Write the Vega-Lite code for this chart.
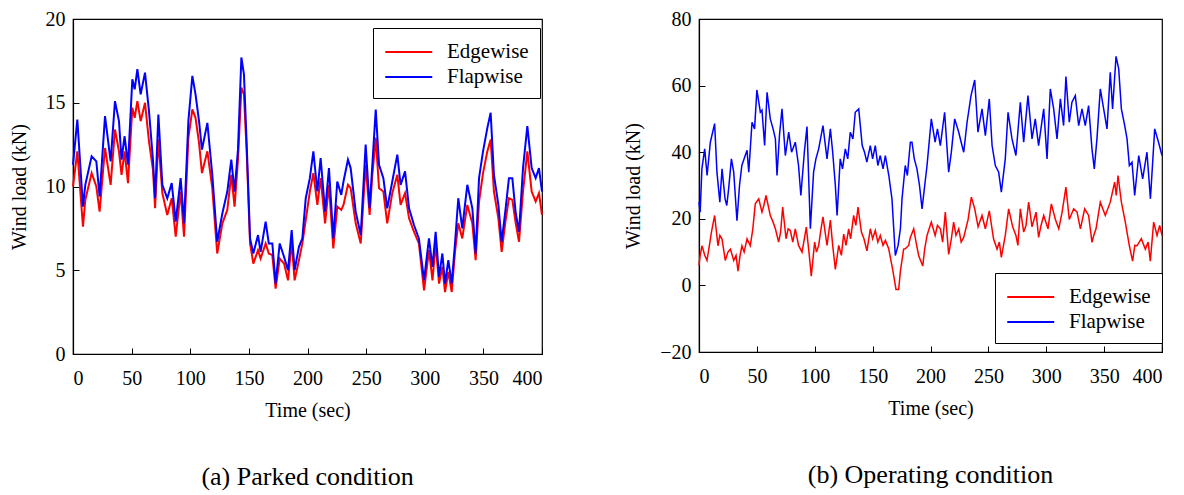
{
  "$schema": "https://vega.github.io/schema/vega-lite/v6.json",
  "padding": {"left": 8, "top": 8, "right": 10, "bottom": 2},
  "background": "white",
  "config": {
    "font": "Liberation Serif, Times New Roman, serif",
    "view": {"stroke": "black", "strokeWidth": 1.2},
    "axis": {
      "grid": false, "domainColor": "black", "domainWidth": 1.2, "tickColor": "black",
      "labelColor": "black", "titleColor": "black", "labelFontSize": 20, "titleFontSize": 20,
      "titleFontWeight": "normal", "tickSize": -6, "labelPadding": 14
    },
    "axisX": {"labelPadding": 20, "titlePadding": 12},
    "axisY": {"titlePadding": 16},
    "legend": {
      "labelFontSize": 21, "labelColor": "black",
      "strokeColor": "black", "fillColor": "white", "padding": 11, "symbolType": "M-1,0H3",
      "symbolSize": 552, "symbolStrokeWidth": 2, "labelOffset": 37, "rowPadding": 2, "title": null
    },
    "title": {"fontSize": 26, "fontWeight": "normal", "color": "black"}
  },
  "spacing": 76,
  "datasets": {
    "parked": [
      {"t":0,"s":"Edgewise","v":10.0},{"t":3.7,"s":"Edgewise","v":12.1},{"t":8.5,"s":"Edgewise","v":7.6},{"t":10.5,"s":"Edgewise","v":9.2},{"t":15.9,"s":"Edgewise","v":10.8},{"t":19.9,"s":"Edgewise","v":10.0},{"t":22.7,"s":"Edgewise","v":8.5},{"t":27.3,"s":"Edgewise","v":12.3},{"t":32.1,"s":"Edgewise","v":10.1},{"t":35.8,"s":"Edgewise","v":13.4},{"t":39.2,"s":"Edgewise","v":12.1},{"t":41.4,"s":"Edgewise","v":10.7},{"t":44,"s":"Edgewise","v":12.1},{"t":46.9,"s":"Edgewise","v":10.2},{"t":50.6,"s":"Edgewise","v":14.7},{"t":52.6,"s":"Edgewise","v":14.1},{"t":54.9,"s":"Edgewise","v":15.1},{"t":57.7,"s":"Edgewise","v":13.9},{"t":61.4,"s":"Edgewise","v":15.0},{"t":64.8,"s":"Edgewise","v":12.7},{"t":68.2,"s":"Edgewise","v":11.0},{"t":70,"s":"Edgewise","v":8.7},{"t":72.8,"s":"Edgewise","v":12.8},{"t":76.2,"s":"Edgewise","v":9.6},{"t":80.4,"s":"Edgewise","v":8.3},{"t":84.2,"s":"Edgewise","v":9.3},{"t":87.6,"s":"Edgewise","v":7.0},{"t":91.8,"s":"Edgewise","v":9.7},{"t":94.7,"s":"Edgewise","v":7.0},{"t":98.4,"s":"Edgewise","v":12.9},{"t":101.8,"s":"Edgewise","v":14.6},{"t":104.5,"s":"Edgewise","v":14.1},{"t":107.5,"s":"Edgewise","v":12.6},{"t":110,"s":"Edgewise","v":10.8},{"t":114.6,"s":"Edgewise","v":12.1},{"t":118.8,"s":"Edgewise","v":9.9},{"t":123,"s":"Edgewise","v":6.0},{"t":127.4,"s":"Edgewise","v":7.8},{"t":131.6,"s":"Edgewise","v":8.6},{"t":135,"s":"Edgewise","v":10.7},{"t":137.8,"s":"Edgewise","v":8.8},{"t":140.7,"s":"Edgewise","v":11.6},{"t":143.6,"s":"Edgewise","v":15.9},{"t":145.8,"s":"Edgewise","v":15.5},{"t":148.1,"s":"Edgewise","v":12.1},{"t":151,"s":"Edgewise","v":6.6},{"t":153.8,"s":"Edgewise","v":5.4},{"t":157.8,"s":"Edgewise","v":6.2},{"t":160,"s":"Edgewise","v":5.7},{"t":164.3,"s":"Edgewise","v":6.6},{"t":167,"s":"Edgewise","v":6.0},{"t":170,"s":"Edgewise","v":5.9},{"t":172.8,"s":"Edgewise","v":3.9},{"t":176.3,"s":"Edgewise","v":5.7},{"t":180,"s":"Edgewise","v":5.4},{"t":183.4,"s":"Edgewise","v":4.4},{"t":186.5,"s":"Edgewise","v":6.7},{"t":189,"s":"Edgewise","v":4.4},{"t":192.7,"s":"Edgewise","v":5.6},{"t":195.6,"s":"Edgewise","v":6.6},{"t":198.5,"s":"Edgewise","v":8.0},{"t":202,"s":"Edgewise","v":9.7},{"t":205,"s":"Edgewise","v":10.8},{"t":208.4,"s":"Edgewise","v":8.9},{"t":211.2,"s":"Edgewise","v":10.5},{"t":215,"s":"Edgewise","v":7.8},{"t":218.3,"s":"Edgewise","v":10.1},{"t":222,"s":"Edgewise","v":6.3},{"t":225.4,"s":"Edgewise","v":8.8},{"t":228.8,"s":"Edgewise","v":8.6},{"t":230.7,"s":"Edgewise","v":8.9},{"t":234.5,"s":"Edgewise","v":10.1},{"t":236.8,"s":"Edgewise","v":9.9},{"t":241.1,"s":"Edgewise","v":7.8},{"t":245.4,"s":"Edgewise","v":6.6},{"t":249.6,"s":"Edgewise","v":11.3},{"t":253,"s":"Edgewise","v":8.3},{"t":255.3,"s":"Edgewise","v":10.7},{"t":258.2,"s":"Edgewise","v":12.9},{"t":261,"s":"Edgewise","v":9.9},{"t":264.7,"s":"Edgewise","v":9.7},{"t":268,"s":"Edgewise","v":7.8},{"t":272.3,"s":"Edgewise","v":9.6},{"t":276.6,"s":"Edgewise","v":10.7},{"t":279.4,"s":"Edgewise","v":8.9},{"t":283.2,"s":"Edgewise","v":9.6},{"t":286.6,"s":"Edgewise","v":8.1},{"t":290.8,"s":"Edgewise","v":7.3},{"t":295,"s":"Edgewise","v":6.6},{"t":299.4,"s":"Edgewise","v":3.8},{"t":303.6,"s":"Edgewise","v":6.2},{"t":306.6,"s":"Edgewise","v":4.4},{"t":309.3,"s":"Edgewise","v":6.6},{"t":312.2,"s":"Edgewise","v":4.2},{"t":315,"s":"Edgewise","v":5.2},{"t":317.3,"s":"Edgewise","v":3.7},{"t":320.1,"s":"Edgewise","v":4.9},{"t":323,"s":"Edgewise","v":3.7},{"t":325.8,"s":"Edgewise","v":6.1},{"t":328.6,"s":"Edgewise","v":7.8},{"t":332,"s":"Edgewise","v":6.9},{"t":336.3,"s":"Edgewise","v":8.9},{"t":340.6,"s":"Edgewise","v":7.8},{"t":343.4,"s":"Edgewise","v":5.6},{"t":346.3,"s":"Edgewise","v":9.1},{"t":349.7,"s":"Edgewise","v":10.8},{"t":353.4,"s":"Edgewise","v":12.1},{"t":356.2,"s":"Edgewise","v":12.8},{"t":359,"s":"Edgewise","v":9.7},{"t":362.8,"s":"Edgewise","v":8.1},{"t":365.6,"s":"Edgewise","v":6.1},{"t":369,"s":"Edgewise","v":8.0},{"t":371.8,"s":"Edgewise","v":9.3},{"t":374.7,"s":"Edgewise","v":9.2},{"t":377.6,"s":"Edgewise","v":7.8},{"t":380.4,"s":"Edgewise","v":6.7},{"t":383.8,"s":"Edgewise","v":9.7},{"t":387.5,"s":"Edgewise","v":12.1},{"t":391.2,"s":"Edgewise","v":9.7},{"t":394.6,"s":"Edgewise","v":9.1},{"t":397.4,"s":"Edgewise","v":9.6},{"t":400,"s":"Edgewise","v":8.3},
      {"t":0,"s":"Flapwise","v":11.3},{"t":3.7,"s":"Flapwise","v":14.0},{"t":8.5,"s":"Flapwise","v":8.8},{"t":10.5,"s":"Flapwise","v":10.1},{"t":15.9,"s":"Flapwise","v":11.8},{"t":19.9,"s":"Flapwise","v":11.5},{"t":22.7,"s":"Flapwise","v":9.4},{"t":27.3,"s":"Flapwise","v":14.2},{"t":32.1,"s":"Flapwise","v":11.5},{"t":35.8,"s":"Flapwise","v":15.1},{"t":39.2,"s":"Flapwise","v":13.9},{"t":41.4,"s":"Flapwise","v":11.6},{"t":44,"s":"Flapwise","v":13.0},{"t":46.9,"s":"Flapwise","v":11.3},{"t":50.6,"s":"Flapwise","v":16.4},{"t":52.6,"s":"Flapwise","v":15.8},{"t":54.9,"s":"Flapwise","v":17.0},{"t":57.7,"s":"Flapwise","v":15.5},{"t":61.4,"s":"Flapwise","v":16.8},{"t":64.8,"s":"Flapwise","v":14.5},{"t":68.2,"s":"Flapwise","v":11.6},{"t":70,"s":"Flapwise","v":9.3},{"t":72.8,"s":"Flapwise","v":14.3},{"t":76.2,"s":"Flapwise","v":10.1},{"t":80.4,"s":"Flapwise","v":9.3},{"t":84.2,"s":"Flapwise","v":10.2},{"t":87.6,"s":"Flapwise","v":7.9},{"t":91.8,"s":"Flapwise","v":10.5},{"t":94.7,"s":"Flapwise","v":7.8},{"t":98.4,"s":"Flapwise","v":13.9},{"t":101.8,"s":"Flapwise","v":16.6},{"t":104.5,"s":"Flapwise","v":15.5},{"t":107.5,"s":"Flapwise","v":13.9},{"t":110,"s":"Flapwise","v":12.2},{"t":114.6,"s":"Flapwise","v":13.8},{"t":118.8,"s":"Flapwise","v":10.7},{"t":123,"s":"Flapwise","v":6.7},{"t":127.4,"s":"Flapwise","v":8.4},{"t":131.6,"s":"Flapwise","v":9.7},{"t":135,"s":"Flapwise","v":11.6},{"t":137.8,"s":"Flapwise","v":9.7},{"t":140.7,"s":"Flapwise","v":12.2},{"t":143.6,"s":"Flapwise","v":17.7},{"t":145.8,"s":"Flapwise","v":16.7},{"t":148.1,"s":"Flapwise","v":12.6},{"t":151,"s":"Flapwise","v":6.9},{"t":153.8,"s":"Flapwise","v":6.0},{"t":157.8,"s":"Flapwise","v":7.1},{"t":160,"s":"Flapwise","v":6.1},{"t":164.3,"s":"Flapwise","v":7.9},{"t":167,"s":"Flapwise","v":6.6},{"t":170,"s":"Flapwise","v":6.6},{"t":172.8,"s":"Flapwise","v":4.2},{"t":176.3,"s":"Flapwise","v":6.6},{"t":180,"s":"Flapwise","v":5.8},{"t":183.4,"s":"Flapwise","v":5.0},{"t":186.5,"s":"Flapwise","v":7.4},{"t":189,"s":"Flapwise","v":5.0},{"t":192.7,"s":"Flapwise","v":6.4},{"t":195.6,"s":"Flapwise","v":6.9},{"t":198.5,"s":"Flapwise","v":9.3},{"t":202,"s":"Flapwise","v":10.5},{"t":205,"s":"Flapwise","v":12.1},{"t":208.4,"s":"Flapwise","v":9.7},{"t":211.2,"s":"Flapwise","v":11.7},{"t":215,"s":"Flapwise","v":8.5},{"t":218.3,"s":"Flapwise","v":11.1},{"t":222,"s":"Flapwise","v":6.9},{"t":225.4,"s":"Flapwise","v":10.3},{"t":228.8,"s":"Flapwise","v":9.5},{"t":230.7,"s":"Flapwise","v":10.3},{"t":234.5,"s":"Flapwise","v":11.6},{"t":236.8,"s":"Flapwise","v":11.1},{"t":241.1,"s":"Flapwise","v":8.5},{"t":245.4,"s":"Flapwise","v":7.1},{"t":249.6,"s":"Flapwise","v":12.5},{"t":253,"s":"Flapwise","v":8.7},{"t":255.3,"s":"Flapwise","v":11.3},{"t":258.2,"s":"Flapwise","v":14.6},{"t":261,"s":"Flapwise","v":11.3},{"t":264.7,"s":"Flapwise","v":10.5},{"t":268,"s":"Flapwise","v":8.7},{"t":272.3,"s":"Flapwise","v":10.3},{"t":276.6,"s":"Flapwise","v":11.9},{"t":279.4,"s":"Flapwise","v":10.1},{"t":283.2,"s":"Flapwise","v":10.9},{"t":286.6,"s":"Flapwise","v":8.7},{"t":290.8,"s":"Flapwise","v":7.7},{"t":295,"s":"Flapwise","v":6.9},{"t":299.4,"s":"Flapwise","v":4.4},{"t":303.6,"s":"Flapwise","v":6.9},{"t":306.6,"s":"Flapwise","v":5.2},{"t":309.3,"s":"Flapwise","v":7.3},{"t":312.2,"s":"Flapwise","v":4.6},{"t":315,"s":"Flapwise","v":6.0},{"t":317.3,"s":"Flapwise","v":4.2},{"t":320.1,"s":"Flapwise","v":5.6},{"t":323,"s":"Flapwise","v":4.2},{"t":325.8,"s":"Flapwise","v":6.6},{"t":328.6,"s":"Flapwise","v":9.3},{"t":332,"s":"Flapwise","v":7.5},{"t":336.3,"s":"Flapwise","v":10.1},{"t":340.6,"s":"Flapwise","v":8.7},{"t":343.4,"s":"Flapwise","v":6.0},{"t":346.3,"s":"Flapwise","v":10.5},{"t":349.7,"s":"Flapwise","v":12.1},{"t":353.4,"s":"Flapwise","v":13.5},{"t":356.2,"s":"Flapwise","v":14.4},{"t":359,"s":"Flapwise","v":10.7},{"t":362.8,"s":"Flapwise","v":8.9},{"t":365.6,"s":"Flapwise","v":6.7},{"t":369,"s":"Flapwise","v":8.7},{"t":371.8,"s":"Flapwise","v":10.5},{"t":374.7,"s":"Flapwise","v":10.5},{"t":377.6,"s":"Flapwise","v":8.4},{"t":380.4,"s":"Flapwise","v":7.3},{"t":383.8,"s":"Flapwise","v":11.1},{"t":387.5,"s":"Flapwise","v":13.6},{"t":391.2,"s":"Flapwise","v":11.1},{"t":394.6,"s":"Flapwise","v":10.5},{"t":397.4,"s":"Flapwise","v":11.1},{"t":400,"s":"Flapwise","v":9.7}
    ],
    "operating": [
      {"t":0,"s":"Edgewise","v":6},{"t":1,"s":"Edgewise","v":9},{"t":2.6,"s":"Edgewise","v":11.9},{"t":5,"s":"Edgewise","v":9},{"t":6.9,"s":"Edgewise","v":7.5},{"t":9,"s":"Edgewise","v":12},{"t":10.7,"s":"Edgewise","v":15.9},{"t":13.5,"s":"Edgewise","v":21},{"t":16.4,"s":"Edgewise","v":11.9},{"t":18,"s":"Edgewise","v":15},{"t":19.9,"s":"Edgewise","v":13.9},{"t":22.7,"s":"Edgewise","v":7.5},{"t":25,"s":"Edgewise","v":10},{"t":27.1,"s":"Edgewise","v":10.9},{"t":30,"s":"Edgewise","v":7.5},{"t":32,"s":"Edgewise","v":9},{"t":33.7,"s":"Edgewise","v":4.3},{"t":35.5,"s":"Edgewise","v":9},{"t":37.1,"s":"Edgewise","v":11.9},{"t":39,"s":"Edgewise","v":10},{"t":41.5,"s":"Edgewise","v":14},{"t":44.3,"s":"Edgewise","v":11.9},{"t":46.5,"s":"Edgewise","v":17},{"t":48.6,"s":"Edgewise","v":24.5},{"t":51.6,"s":"Edgewise","v":26},{"t":54.4,"s":"Edgewise","v":22},{"t":56,"s":"Edgewise","v":24},{"t":57.9,"s":"Edgewise","v":27},{"t":61.6,"s":"Edgewise","v":21},{"t":64,"s":"Edgewise","v":19},{"t":66,"s":"Edgewise","v":17},{"t":68.8,"s":"Edgewise","v":13},{"t":70.5,"s":"Edgewise","v":16},{"t":72.3,"s":"Edgewise","v":23.5},{"t":75.2,"s":"Edgewise","v":14},{"t":77,"s":"Edgewise","v":17},{"t":78.9,"s":"Edgewise","v":16.5},{"t":81,"s":"Edgewise","v":13},{"t":83.2,"s":"Edgewise","v":17},{"t":86,"s":"Edgewise","v":12},{"t":89,"s":"Edgewise","v":10},{"t":91,"s":"Edgewise","v":14},{"t":92.7,"s":"Edgewise","v":17.5},{"t":95,"s":"Edgewise","v":10},{"t":97,"s":"Edgewise","v":2.8},{"t":99.9,"s":"Edgewise","v":13},{"t":101.5,"s":"Edgewise","v":10},{"t":103.4,"s":"Edgewise","v":12},{"t":105,"s":"Edgewise","v":16},{"t":107.1,"s":"Edgewise","v":20.6},{"t":110.6,"s":"Edgewise","v":12},{"t":113.5,"s":"Edgewise","v":19.6},{"t":115.5,"s":"Edgewise","v":12},{"t":117.8,"s":"Edgewise","v":4.8},{"t":120.7,"s":"Edgewise","v":12},{"t":123,"s":"Edgewise","v":9},{"t":125,"s":"Edgewise","v":15.4},{"t":127,"s":"Edgewise","v":12},{"t":129.3,"s":"Edgewise","v":17},{"t":131,"s":"Edgewise","v":14},{"t":133.6,"s":"Edgewise","v":21},{"t":135.5,"s":"Edgewise","v":18},{"t":137.4,"s":"Edgewise","v":23.5},{"t":140.3,"s":"Edgewise","v":16},{"t":142.5,"s":"Edgewise","v":14},{"t":145.1,"s":"Edgewise","v":10.4},{"t":148,"s":"Edgewise","v":17},{"t":150,"s":"Edgewise","v":14},{"t":152.3,"s":"Edgewise","v":16.5},{"t":154.5,"s":"Edgewise","v":13},{"t":156.6,"s":"Edgewise","v":15},{"t":159,"s":"Edgewise","v":12},{"t":161,"s":"Edgewise","v":13.5},{"t":163.9,"s":"Edgewise","v":11},{"t":167.3,"s":"Edgewise","v":4.8},{"t":170.2,"s":"Edgewise","v":-1.2},{"t":172.5,"s":"Edgewise","v":-1.2},{"t":174,"s":"Edgewise","v":4.3},{"t":176.8,"s":"Edgewise","v":10.9},{"t":178.2,"s":"Edgewise","v":11},{"t":181.1,"s":"Edgewise","v":12},{"t":182.6,"s":"Edgewise","v":14.4},{"t":185.5,"s":"Edgewise","v":17},{"t":187.5,"s":"Edgewise","v":13},{"t":189.8,"s":"Edgewise","v":8.9},{"t":193.3,"s":"Edgewise","v":5.8},{"t":195,"s":"Edgewise","v":11},{"t":197,"s":"Edgewise","v":15},{"t":200.7,"s":"Edgewise","v":19},{"t":204,"s":"Edgewise","v":15},{"t":206,"s":"Edgewise","v":18},{"t":208.5,"s":"Edgewise","v":17},{"t":210.5,"s":"Edgewise","v":13},{"t":212.8,"s":"Edgewise","v":22},{"t":215.7,"s":"Edgewise","v":9.3},{"t":218,"s":"Edgewise","v":14},{"t":220,"s":"Edgewise","v":19},{"t":222,"s":"Edgewise","v":15},{"t":224.4,"s":"Edgewise","v":17},{"t":226.5,"s":"Edgewise","v":13},{"t":228.7,"s":"Edgewise","v":14.4},{"t":232.5,"s":"Edgewise","v":19.8},{"t":235.3,"s":"Edgewise","v":26.5},{"t":238.2,"s":"Edgewise","v":23},{"t":241.1,"s":"Edgewise","v":17.6},{"t":244.5,"s":"Edgewise","v":21},{"t":247.4,"s":"Edgewise","v":17},{"t":250.8,"s":"Edgewise","v":22.4},{"t":254.5,"s":"Edgewise","v":13.9},{"t":257.5,"s":"Edgewise","v":10.9},{"t":259.5,"s":"Edgewise","v":13},{"t":261.2,"s":"Edgewise","v":8.4},{"t":264.6,"s":"Edgewise","v":15},{"t":267.5,"s":"Edgewise","v":23},{"t":271,"s":"Edgewise","v":17.6},{"t":273.8,"s":"Edgewise","v":15},{"t":275.5,"s":"Edgewise","v":12},{"t":277.6,"s":"Edgewise","v":23},{"t":280.5,"s":"Edgewise","v":16},{"t":282.5,"s":"Edgewise","v":18},{"t":284.8,"s":"Edgewise","v":25},{"t":287.7,"s":"Edgewise","v":17.6},{"t":291.2,"s":"Edgewise","v":22},{"t":293.4,"s":"Edgewise","v":14.4},{"t":295.5,"s":"Edgewise","v":18},{"t":297.8,"s":"Edgewise","v":21},{"t":301.5,"s":"Edgewise","v":17},{"t":304.4,"s":"Edgewise","v":24.5},{"t":307.9,"s":"Edgewise","v":19.8},{"t":310.8,"s":"Edgewise","v":17},{"t":313.7,"s":"Edgewise","v":22},{"t":317,"s":"Edgewise","v":29.5},{"t":319.9,"s":"Edgewise","v":19.8},{"t":323.7,"s":"Edgewise","v":23},{"t":326.6,"s":"Edgewise","v":22},{"t":329.5,"s":"Edgewise","v":17},{"t":333.2,"s":"Edgewise","v":23},{"t":336.6,"s":"Edgewise","v":21},{"t":339.5,"s":"Edgewise","v":12.9},{"t":341,"s":"Edgewise","v":15},{"t":343,"s":"Edgewise","v":17},{"t":346.7,"s":"Edgewise","v":25},{"t":351,"s":"Edgewise","v":21},{"t":355.3,"s":"Edgewise","v":25},{"t":359.1,"s":"Edgewise","v":31},{"t":360.5,"s":"Edgewise","v":27},{"t":362,"s":"Edgewise","v":33},{"t":364.9,"s":"Edgewise","v":25},{"t":368.3,"s":"Edgewise","v":19},{"t":371.8,"s":"Edgewise","v":11.9},{"t":374.6,"s":"Edgewise","v":7.3},{"t":376.5,"s":"Edgewise","v":12},{"t":378.4,"s":"Edgewise","v":11.9},{"t":382.1,"s":"Edgewise","v":14},{"t":385.6,"s":"Edgewise","v":10.9},{"t":388,"s":"Edgewise","v":13},{"t":389.9,"s":"Edgewise","v":7.3},{"t":392.8,"s":"Edgewise","v":19},{"t":395.7,"s":"Edgewise","v":15},{"t":398,"s":"Edgewise","v":18},{"t":400,"s":"Edgewise","v":15},
      {"t":0,"s":"Flapwise","v":25},{"t":1,"s":"Flapwise","v":22},{"t":2.5,"s":"Flapwise","v":35},{"t":4.9,"s":"Flapwise","v":41},{"t":7,"s":"Flapwise","v":33},{"t":9.8,"s":"Flapwise","v":43},{"t":13.5,"s":"Flapwise","v":48.6},{"t":15.5,"s":"Flapwise","v":34},{"t":18,"s":"Flapwise","v":25},{"t":19.9,"s":"Flapwise","v":35},{"t":22.5,"s":"Flapwise","v":26},{"t":24,"s":"Flapwise","v":24},{"t":25.6,"s":"Flapwise","v":29},{"t":28,"s":"Flapwise","v":38},{"t":30,"s":"Flapwise","v":34},{"t":32.8,"s":"Flapwise","v":19.4},{"t":35,"s":"Flapwise","v":30},{"t":37,"s":"Flapwise","v":36},{"t":41.5,"s":"Flapwise","v":40.6},{"t":43,"s":"Flapwise","v":34},{"t":45.8,"s":"Flapwise","v":49},{"t":48,"s":"Flapwise","v":47},{"t":50,"s":"Flapwise","v":58.7},{"t":53,"s":"Flapwise","v":52},{"t":54.4,"s":"Flapwise","v":52.6},{"t":56.7,"s":"Flapwise","v":42},{"t":58.8,"s":"Flapwise","v":58},{"t":61.6,"s":"Flapwise","v":50},{"t":64,"s":"Flapwise","v":47},{"t":66,"s":"Flapwise","v":44},{"t":67.4,"s":"Flapwise","v":33},{"t":69.5,"s":"Flapwise","v":45},{"t":71.7,"s":"Flapwise","v":53},{"t":74.6,"s":"Flapwise","v":39},{"t":77.5,"s":"Flapwise","v":46},{"t":80,"s":"Flapwise","v":40},{"t":83.2,"s":"Flapwise","v":43},{"t":86,"s":"Flapwise","v":36},{"t":88,"s":"Flapwise","v":27},{"t":91,"s":"Flapwise","v":40},{"t":93.3,"s":"Flapwise","v":47.7},{"t":96.2,"s":"Flapwise","v":17},{"t":99,"s":"Flapwise","v":34},{"t":101,"s":"Flapwise","v":38},{"t":103.4,"s":"Flapwise","v":41},{"t":107.1,"s":"Flapwise","v":48},{"t":110.6,"s":"Flapwise","v":38},{"t":113.5,"s":"Flapwise","v":47},{"t":115.5,"s":"Flapwise","v":40},{"t":117.8,"s":"Flapwise","v":30},{"t":119.3,"s":"Flapwise","v":21},{"t":122,"s":"Flapwise","v":38},{"t":124,"s":"Flapwise","v":35},{"t":126.4,"s":"Flapwise","v":41},{"t":128.5,"s":"Flapwise","v":38},{"t":130.7,"s":"Flapwise","v":46},{"t":133,"s":"Flapwise","v":44},{"t":135,"s":"Flapwise","v":52},{"t":138,"s":"Flapwise","v":53},{"t":141,"s":"Flapwise","v":42},{"t":143,"s":"Flapwise","v":40},{"t":145,"s":"Flapwise","v":37},{"t":148,"s":"Flapwise","v":42},{"t":150,"s":"Flapwise","v":38},{"t":152.3,"s":"Flapwise","v":42},{"t":154.5,"s":"Flapwise","v":36},{"t":156.6,"s":"Flapwise","v":39},{"t":159,"s":"Flapwise","v":35},{"t":161,"s":"Flapwise","v":39},{"t":164,"s":"Flapwise","v":33},{"t":166.7,"s":"Flapwise","v":26},{"t":169.6,"s":"Flapwise","v":9},{"t":172,"s":"Flapwise","v":12},{"t":174,"s":"Flapwise","v":17},{"t":175.4,"s":"Flapwise","v":26},{"t":178.2,"s":"Flapwise","v":36},{"t":180,"s":"Flapwise","v":33},{"t":182.6,"s":"Flapwise","v":43},{"t":184,"s":"Flapwise","v":43},{"t":186,"s":"Flapwise","v":38},{"t":188.3,"s":"Flapwise","v":35},{"t":190.5,"s":"Flapwise","v":30},{"t":192.7,"s":"Flapwise","v":23},{"t":195,"s":"Flapwise","v":30},{"t":197,"s":"Flapwise","v":36},{"t":200.7,"s":"Flapwise","v":50},{"t":204,"s":"Flapwise","v":43},{"t":206,"s":"Flapwise","v":47},{"t":208.5,"s":"Flapwise","v":42},{"t":212.2,"s":"Flapwise","v":52},{"t":215.7,"s":"Flapwise","v":34},{"t":218,"s":"Flapwise","v":40},{"t":220.9,"s":"Flapwise","v":50},{"t":224.4,"s":"Flapwise","v":46},{"t":226.5,"s":"Flapwise","v":43},{"t":228.7,"s":"Flapwise","v":40},{"t":231.6,"s":"Flapwise","v":49},{"t":235,"s":"Flapwise","v":57},{"t":238.2,"s":"Flapwise","v":61.7},{"t":241,"s":"Flapwise","v":46},{"t":244.5,"s":"Flapwise","v":53},{"t":247.4,"s":"Flapwise","v":45},{"t":250.8,"s":"Flapwise","v":56},{"t":253.2,"s":"Flapwise","v":42},{"t":256,"s":"Flapwise","v":36},{"t":258.9,"s":"Flapwise","v":34},{"t":261.2,"s":"Flapwise","v":28},{"t":264.6,"s":"Flapwise","v":38},{"t":267,"s":"Flapwise","v":52},{"t":270.4,"s":"Flapwise","v":44},{"t":273.8,"s":"Flapwise","v":39},{"t":277.6,"s":"Flapwise","v":55},{"t":280.5,"s":"Flapwise","v":43},{"t":284.2,"s":"Flapwise","v":57},{"t":287.7,"s":"Flapwise","v":44},{"t":290.5,"s":"Flapwise","v":50},{"t":293.4,"s":"Flapwise","v":42},{"t":297.8,"s":"Flapwise","v":53},{"t":300.7,"s":"Flapwise","v":38},{"t":303.5,"s":"Flapwise","v":59},{"t":306.4,"s":"Flapwise","v":53},{"t":309.3,"s":"Flapwise","v":44},{"t":312.2,"s":"Flapwise","v":56},{"t":315,"s":"Flapwise","v":48},{"t":317,"s":"Flapwise","v":62.7},{"t":319.9,"s":"Flapwise","v":49},{"t":322.2,"s":"Flapwise","v":55},{"t":325.1,"s":"Flapwise","v":57},{"t":328,"s":"Flapwise","v":48},{"t":330.9,"s":"Flapwise","v":53},{"t":333.7,"s":"Flapwise","v":48},{"t":336.6,"s":"Flapwise","v":54},{"t":339.5,"s":"Flapwise","v":41},{"t":341.5,"s":"Flapwise","v":35},{"t":343.8,"s":"Flapwise","v":44},{"t":346.7,"s":"Flapwise","v":59},{"t":349.6,"s":"Flapwise","v":53},{"t":352.5,"s":"Flapwise","v":47},{"t":355.3,"s":"Flapwise","v":64},{"t":357.3,"s":"Flapwise","v":53},{"t":360.3,"s":"Flapwise","v":68.8},{"t":362.6,"s":"Flapwise","v":65},{"t":364.9,"s":"Flapwise","v":53},{"t":367.8,"s":"Flapwise","v":48},{"t":369.8,"s":"Flapwise","v":44},{"t":371.8,"s":"Flapwise","v":36},{"t":374.1,"s":"Flapwise","v":37},{"t":376.4,"s":"Flapwise","v":27},{"t":379.9,"s":"Flapwise","v":39},{"t":383.3,"s":"Flapwise","v":32},{"t":387,"s":"Flapwise","v":40},{"t":390,"s":"Flapwise","v":26},{"t":393.7,"s":"Flapwise","v":47},{"t":397,"s":"Flapwise","v":43},{"t":400,"s":"Flapwise","v":39}
    ]
  },
  "hconcat": [
    {
      "width": 469, "height": 335,
      "title": {"text": "(a) Parked condition", "orient": "bottom", "anchor": "middle", "offset": 44},
      "data": {"name": "parked"},
      "mark": {"type": "line", "strokeWidth": 2},
      "encoding": {
        "x": {"field": "t", "type": "quantitative", "title": "Time (sec)", "scale": {"domain": [0, 400], "nice": false}, "axis": {"values": [0,50,100,150,200,250,300,350,400]}},
        "y": {"field": "v", "type": "quantitative", "title": "Wind load (kN)", "scale": {"domain": [0, 20], "nice": false, "zero": false}, "axis": {"values": [0,5,10,15,20]}},
        "color": {"field": "s", "type": "nominal", "scale": {"domain": ["Edgewise", "Flapwise"], "range": ["#ff0000", "#0000ff"]}, "legend": {"orient": "none", "legendX": 300, "legendY": 9}},
        "order": {"field": "t", "type": "quantitative"}
      }
    },
    {
      "width": 463, "height": 333,
      "title": {"text": "(b) Operating condition", "orient": "bottom", "anchor": "middle", "offset": 44},
      "data": {"name": "operating"},
      "mark": {"type": "line", "strokeWidth": 1.5},
      "encoding": {
        "x": {"field": "t", "type": "quantitative", "title": "Time (sec)", "scale": {"domain": [0, 400], "nice": false}, "axis": {"values": [0,50,100,150,200,250,300,350,400]}},
        "y": {"field": "v", "type": "quantitative", "title": "Wind load (kN)", "scale": {"domain": [-20, 80], "nice": false, "zero": false}, "axis": {"values": [-20,0,20,40,60,80]}},
        "color": {"field": "s", "type": "nominal", "scale": {"domain": ["Edgewise", "Flapwise"], "range": ["#ff0000", "#0000ff"]}, "legend": {"orient": "none", "legendX": 296, "legendY": 254}},
        "order": {"field": "t", "type": "quantitative"}
      }
    }
  ],
  "resolve": {"scale": {"color": "independent"}, "legend": {"color": "independent"}}
}
